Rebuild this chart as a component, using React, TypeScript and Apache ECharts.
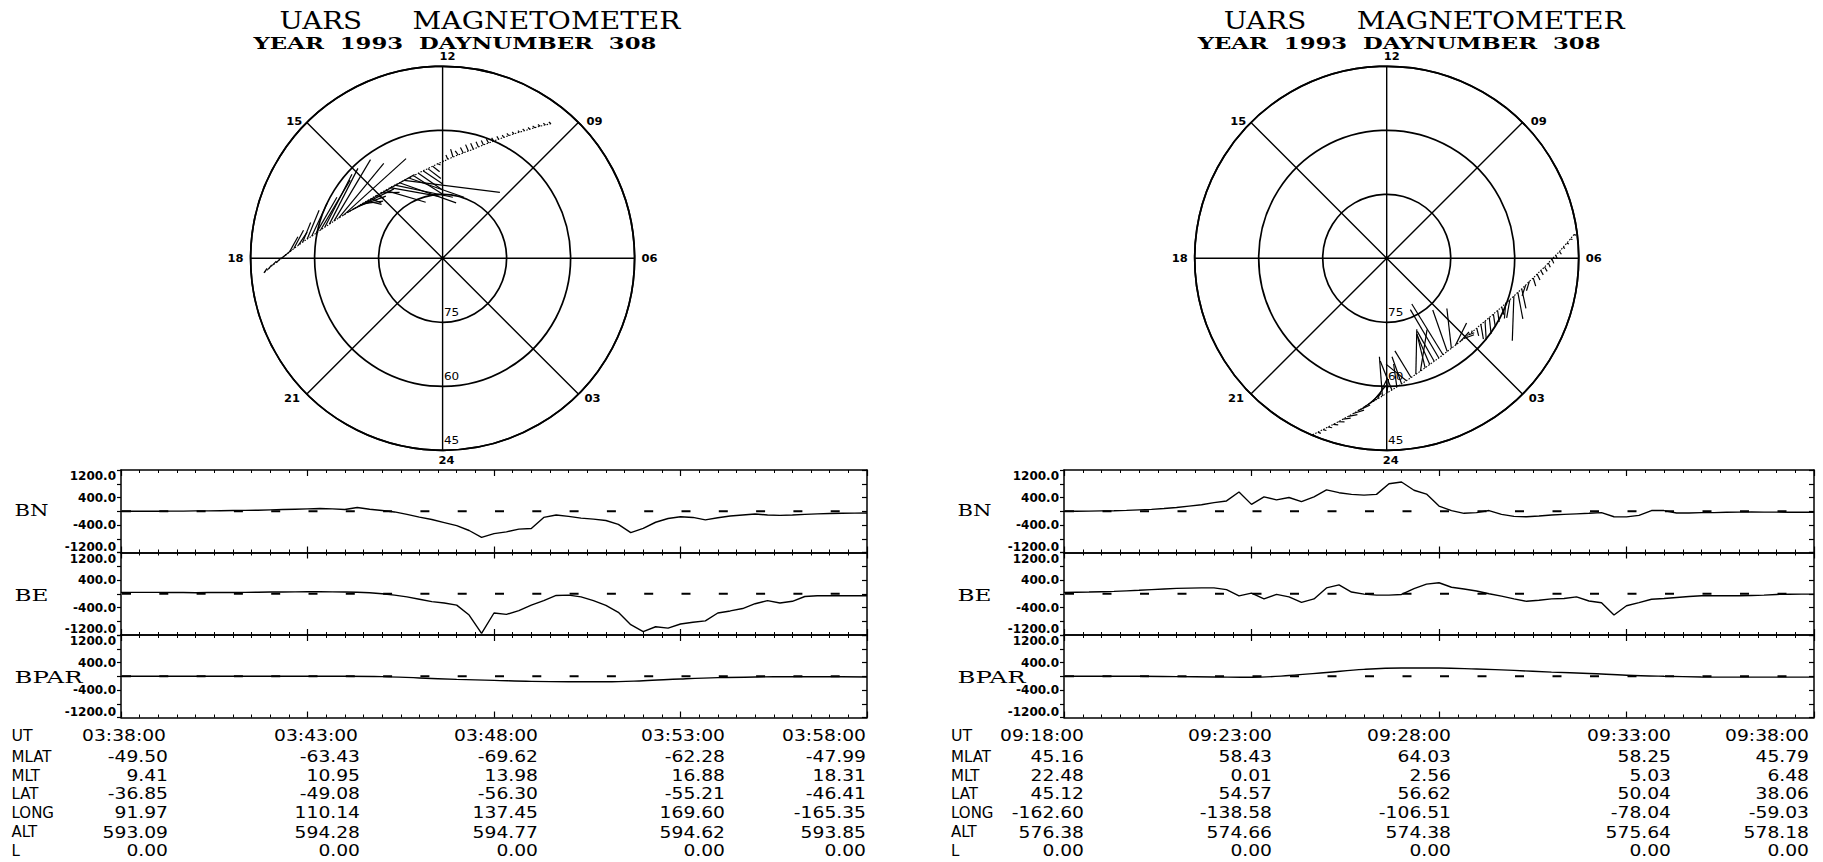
import { useEffect, useRef } from 'react';
import * as echarts from 'echarts';

// ---------- Data ----------
// Samples every 20 s over the 20-minute pass (61 samples); BPAR every minute (21 samples).

// Pass 1: 03:38:00 - 03:58:00 UT (southern hemisphere)
const P1_MLAT = [
  -49.5, -50.5, -51.5, -52.5, -53.48, -54.45, -55.4, -56.36, -57.31, -58.25, -59.15, -60.03,
  -60.9, -61.76, -62.6, -63.43, -64.15, -64.84, -65.5, -66.14, -66.76, -67.35, -67.82, -68.28,
  -68.7, -68.98, -69.26, -69.5, -69.58, -69.62, -69.62, -69.5, -69.36, -69.2, -68.88, -68.55,
  -68.2, -67.7, -67.18, -66.65, -66.0, -65.33, -64.65, -63.87, -63.08, -62.28, -61.46, -60.64,
  -59.8, -58.88, -57.95, -57.0, -56.04, -55.07, -54.1, -53.1, -52.1, -51.1, -50.06, -49.02, -47.99,
];
const P1_MLT = [
  9.41, 9.49, 9.57, 9.65, 9.73, 9.82, 9.91, 10.01, 10.11, 10.21, 10.32, 10.43,
  10.55, 10.68, 10.81, 10.95, 11.1, 11.26, 11.43, 11.61, 11.8, 11.99, 12.2, 12.41,
  12.62, 12.84, 13.06, 13.29, 13.52, 13.75, 13.98, 14.21, 14.44, 14.67, 14.89, 15.11,
  15.33, 15.53, 15.73, 15.92, 16.1, 16.27, 16.44, 16.59, 16.74, 16.88, 17.01, 17.13,
  17.25, 17.36, 17.46, 17.56, 17.66, 17.75, 17.84, 17.93, 18.01, 18.09, 18.16, 18.24, 18.31,
];
const P1_BN = [
  0, 0, 0, 0, 5, 5, 10, 10, 15, 20, 25, 30, 40, 50, 60, 70, 80, 70, 50, 110, 60,
  20, -20, -90, -170, -240, -330, -420, -560, -760, -650, -600, -520, -500, -180, -110,
  -150, -200, -230, -270, -380, -620, -500, -320, -210, -160, -180, -250, -190, -140,
  -110, -80, -110, -120, -110, -90, -75, -65, -60, -55, -50,
];
const P1_BE = [
  40, 40, 40, 40, 35, 35, 30, 35, 40, 35, 40, 45, 50, 50, 55, 60, 60, 55, 50, 45, 30,
  0, -40, -90, -160, -230, -270, -330, -620, -1150, -560, -600, -490, -330, -200, -50,
  -40, -90, -200, -340, -540, -900, -1100, -960, -1000, -880, -830, -790, -560, -500,
  -430, -290, -200, -270, -220, -80, -60, -60, -60, -60, -60,
];
const P1_BPAR = [0, 0, 0, 0, 0, 0, 0, -10, -50, -90, -120, -150, -160, -160, -130, -80, -40, -20, -15, -15, -20];

// Pass 2: 09:18:00 - 09:38:00 UT (northern hemisphere)
const P2_MLAT = [
  45.16, 46.17, 47.16, 48.13, 49.09, 50.04, 50.97, 51.89, 52.79, 53.67, 54.52, 55.36,
  56.17, 56.95, 57.7, 58.43, 59.11, 59.76, 60.38, 60.94, 61.47, 61.96, 62.4, 62.8,
  63.14, 63.41, 63.64, 63.83, 63.96, 64.02, 64.03, 63.97, 63.88, 63.76, 63.54, 63.3,
  63.03, 62.65, 62.24, 61.79, 61.27, 60.74, 60.19, 59.55, 58.91, 58.25, 57.55, 56.84,
  56.12, 55.34, 54.56, 53.77, 52.94, 52.1, 51.25, 50.36, 49.47, 48.57, 47.65, 46.72, 45.79,
];
const P2_MLT = [
  22.48, 22.56, 22.64, 22.72, 22.81, 22.9, 22.99, 23.09, 23.19, 23.29, 23.4, 23.51,
  23.62, 23.75, 23.88, 0.01, 0.15, 0.3, 0.45, 0.61, 0.77, 0.94, 1.11, 1.29,
  1.47, 1.65, 1.84, 2.02, 2.2, 2.38, 2.56, 2.75, 2.93, 3.12, 3.3, 3.48,
  3.66, 3.83, 4.0, 4.16, 4.32, 4.47, 4.62, 4.76, 4.9, 5.03, 5.15, 5.27,
  5.39, 5.49, 5.6, 5.7, 5.79, 5.89, 5.98, 6.07, 6.15, 6.24, 6.32, 6.4, 6.48,
];
const P2_BN = [
  0, 0, 5, 10, 15, 25, 40, 55, 80, 110, 150, 190, 250, 300, 560, 200, 420, 330, 400, 280, 420,
  620, 540, 490, 470, 490, 800, 850, 610, 500, 150, 20, -60, -40, 20, -90,
  -150, -160, -140, -110, -90, -75, -60, -40, -160, -165, -120, 20, 20, -50,
  -50, -40, -40, -30, -25, -20, -25, -25, -30, -30, -30,
];
const P2_BE = [
  40, 45, 50, 60, 70, 85, 100, 120, 140, 155, 165, 170, 170, 120, -60, 20, -150, -20, -90, -250, -150,
  170, 260, 50, -10, -40, -40, -20, 150, 280, 320, 190, 140, 80, 0, -70,
  -150, -220, -190, -150, -140, -90, -210, -260, -620, -350, -260, -160, -140, -110,
  -80, -60, -60, -60, -60, -50, -40, -20, -15, -10, -10,
];
const P2_BPAR = [0, 0, 0, -10, -20, -30, 20, 110, 200, 240, 240, 210, 170, 120, 80, 30, 0, -20, -25, -25, -25];

// Ephemeris table below each pass
const ROW_NAMES = ['MLAT', 'MLT', 'LAT', 'LONG', 'ALT', 'L'];
const P1_UT = ['03:38:00', '03:43:00', '03:48:00', '03:53:00', '03:58:00'];
const P1_TABLE = [
  [-49.5, -63.43, -69.62, -62.28, -47.99],
  [9.41, 10.95, 13.98, 16.88, 18.31],
  [-36.85, -49.08, -56.3, -55.21, -46.41],
  [91.97, 110.14, 137.45, 169.6, -165.35],
  [593.09, 594.28, 594.77, 594.62, 593.85],
  [0, 0, 0, 0, 0],
];
const P2_UT = ['09:18:00', '09:23:00', '09:28:00', '09:33:00', '09:38:00'];
const P2_TABLE = [
  [45.16, 58.43, 64.03, 58.25, 45.79],
  [22.48, 0.01, 2.56, 5.03, 6.48],
  [45.12, 54.57, 56.62, 50.04, 38.06],
  [-162.6, -138.58, -106.51, -78.04, -59.03],
  [576.38, 574.66, 574.38, 575.64, 578.18],
  [0, 0, 0, 0, 0],
];

const STRIP_NAMES = ['BN', 'BE', 'BPAR'];
const Y_LABELS = [1200, 400, -400, -1200];
const HOUR_LABELS = ['12', '24', '18', '06', '15', '09', '21', '03'];
const RING_LABELS = ['75', '60', '45'];

// ---------- Layout ----------
const W = 1823;
const H = 862;
const DIAL_CY = 258.3;
const DIAL_R = 192;
const STRIP_TOPS = [470, 552.5, 635];
const STRIP_H = 82.5;
const ROW_Y = [736, 757, 775.5, 794, 812.6, 832.4, 851];
const VEC_SCALE = 0.07; // px per nT

const SERIF = '"DejaVu Serif", serif';
const SANS = '"DejaVu Sans", sans-serif';

type Pass = {
  south: boolean;
  cx: number;
  stripX: number;
  stripW: number;
  mlat: number[];
  mlt: number[];
  bn: number[];
  be: number[];
  bpar: number[];
  ut: string[];
  table: number[][];
  utRight: number[];
  valRight: number[];
  rowLabelX: number;
};

const PASSES: Pass[] = [
  {
    south: true, cx: 442.6, stripX: 121, stripW: 746,
    mlat: P1_MLAT, mlt: P1_MLT, bn: P1_BN, be: P1_BE, bpar: P1_BPAR,
    ut: P1_UT, table: P1_TABLE,
    utRight: [166, 358, 538, 725, 866], valRight: [168, 360, 538, 725, 866], rowLabelX: 11.5,
  },
  {
    south: false, cx: 1386.7, stripX: 1064, stripW: 750,
    mlat: P2_MLAT, mlt: P2_MLT, bn: P2_BN, be: P2_BE, bpar: P2_BPAR,
    ut: P2_UT, table: P2_TABLE,
    utRight: [1084, 1272, 1451, 1671, 1809], valRight: [1084, 1272, 1451, 1671, 1809], rowLabelX: 951,
  },
];

// ---------- Text helpers ----------
let measureCtx: CanvasRenderingContext2D | null = null;
function measure(text: string, font: string): number {
  if (!measureCtx) measureCtx = document.createElement('canvas').getContext('2d');
  if (!measureCtx) return text.length * 8;
  measureCtx.font = font;
  return measureCtx.measureText(text).width || 1;
}

function textEl(
  text: string, x: number, y: number, font: string,
  align: 'left' | 'center' | 'right', scaleX = 1,
) {
  return {
    type: 'text', x, y, scaleX, silent: true, z: 20,
    style: {
      text, font, fill: '#000',
      align, textAlign: align, verticalAlign: 'middle', textVerticalAlign: 'middle',
    },
  };
}

function fitText(
  text: string, x: number, y: number, font: string,
  align: 'left' | 'center' | 'right', width: number,
) {
  return textEl(text, x, y, font, align, width / measure(text, font));
}

// ---------- Option ----------
function buildOption() {
  const polar: any[] = [];
  const radiusAxis: any[] = [];
  const angleAxis: any[] = [];
  const grid: any[] = [];
  const xAxis: any[] = [];
  const yAxis: any[] = [];
  const series: any[] = [];
  const graphic: any[] = [];

  const axisColor = '#000';

  PASSES.forEach((ps, pi) => {
    // Polar dial: colatitude rings at 75/60/45 and 3-hour MLT spokes, noon up, dawn right
    polar.push({ center: [ps.cx, DIAL_CY], radius: DIAL_R });
    radiusAxis.push({
      polarIndex: pi, type: 'value', min: 0, max: 45, interval: 15,
      axisLine: { show: false }, axisTick: { show: false }, axisLabel: { show: false },
      splitLine: { show: true, lineStyle: { color: axisColor, width: 1.7 } },
    });
    angleAxis.push({
      polarIndex: pi, type: 'value', min: 0, max: 24, interval: 3,
      startAngle: 270, clockwise: false,
      axisLine: { show: true, lineStyle: { color: axisColor, width: 1.7 } },
      axisTick: { show: false }, axisLabel: { show: false },
      splitLine: { show: true, lineStyle: { color: axisColor, width: 1.4 } },
    });

    const trackPts = ps.mlat.map((m, k) => [90 - Math.abs(m), ps.mlt[k]]);
    series.push({
      type: 'line', coordinateSystem: 'polar', polarIndex: pi,
      data: trackPts, showSymbol: false, silent: true,
      lineStyle: { color: '#000', width: 1.1, type: [1.5, 1.5] }, z: 3,
    });

    const south = ps.south;
    series.push({
      type: 'custom', coordinateSystem: 'polar', polarIndex: pi, silent: true,
      encode: { radius: 0, angle: 1 },
      data: ps.mlat.map((m, k) => [90 - Math.abs(m), ps.mlt[k], ps.bn[k], ps.be[k]]),
      renderItem: (_params: any, api: any) => {
        const r = api.value(0) as number;
        const m = api.value(1) as number;
        const bn = api.value(2) as number;
        const be = api.value(3) as number;
        const p = api.coord([r, m]);
        const phi = ((m - 6) * Math.PI) / 12;
        const ox = Math.cos(phi);
        const oy = -Math.sin(phi);
        const ex = -Math.sin(phi);
        const ey = -Math.cos(phi);
        // geomagnetic north points poleward in the north, away from the pole in the south
        const ns = south ? 1 : -1;
        const dx = VEC_SCALE * (bn * ns * ox + be * ex);
        const dy = VEC_SCALE * (bn * ns * oy + be * ey);
        return {
          type: 'line',
          shape: { x1: p[0], y1: p[1], x2: p[0] + dx, y2: p[1] + dy },
          style: { stroke: '#000', lineWidth: 1.2 },
        };
      },
      z: 4,
    });

    // Titles
    graphic.push(fitText('UARS', ps.cx - 163, 20, `normal 25px ${SERIF}`, 'left', 82.5));
    graphic.push(fitText('MAGNETOMETER', ps.cx - 30, 20, `normal 25px ${SERIF}`, 'left', 268));
    graphic.push(fitText('YEAR  1993  DAYNUMBER  308', ps.cx - 189, 43, `bold 17px ${SERIF}`, 'left', 403));

    // Dial hour labels
    const hourOffsets = [
      [5, -202], [4, 202.5], [-207, 0], [207, 0],
      [-148.4, -136.6], [152, -136.6], [-150.6, 140], [150, 140],
    ];
    HOUR_LABELS.forEach((t, k) => {
      graphic.push(textEl(t, ps.cx + hourOffsets[k][0], DIAL_CY + hourOffsets[k][1], `bold 10px ${SANS}`, 'center', 1.15));
    });
    RING_LABELS.forEach((t, k) => {
      graphic.push(textEl(t, ps.cx + 9, DIAL_CY + (k + 1) * 64 - 9, `normal 10px ${SANS}`, 'center', 1.2));
    });

    // Strip charts
    const stripData = [ps.bn, ps.be, ps.bpar];
    const labelWidths = [34, 34, 68];
    const labelY = [510, 595, 677];
    for (let s = 0; s < 3; s++) {
      const g = pi * 3 + s;
      grid.push({ left: ps.stripX, top: STRIP_TOPS[s], width: ps.stripW, height: STRIP_H, containLabel: false });
      const xBase = {
        gridIndex: g, type: 'value', min: 0, max: 20, interval: 5,
        axisLine: { show: true, onZero: false, lineStyle: { color: axisColor, width: 1.5 } },
        axisTick: { show: true, inside: true, length: 6, lineStyle: { color: axisColor, width: 1.2 } },
        minorTick: { show: true, splitNumber: 10, length: 3, lineStyle: { color: axisColor, width: 1 } },
        axisLabel: { show: false }, splitLine: { show: false }, minorSplitLine: { show: false },
      };
      xAxis.push({ ...xBase, position: 'bottom' });
      xAxis.push({ ...xBase, position: 'top' });
      const yBase = {
        gridIndex: g, type: 'value', min: -1200, max: 1200, interval: 400,
        axisLine: { show: true, onZero: false, lineStyle: { color: axisColor, width: 1.5 } },
        splitLine: { show: false },
      };
      yAxis.push({
        ...yBase, position: 'left',
        axisTick: { show: true, inside: false, length: 4, lineStyle: { color: axisColor, width: 1.2 } },
        axisLabel: {
          show: true, color: '#000', fontFamily: SANS, fontSize: 12, fontWeight: 'bold', margin: 5,
          verticalAlignMaxLabel: 'top', verticalAlignMinLabel: 'bottom',
          formatter: (v: number) => (Y_LABELS.includes(v) ? v.toFixed(1) : ''),
        },
      });
      yAxis.push({
        ...yBase, position: 'right',
        axisTick: { show: true, inside: true, length: 5, lineStyle: { color: axisColor, width: 1.2 } },
        axisLabel: { show: false },
      });

      const period = ps.stripW / 20;
      series.push({
        type: 'line', xAxisIndex: 2 * g, yAxisIndex: 2 * g, silent: true,
        data: [[0, 0], [20, 0]], showSymbol: false,
        lineStyle: { color: '#000', width: 1.8, type: [9, period - 9], dashOffset: -1.5 }, z: 2,
      });

      const vals = stripData[s];
      const stepMin = s === 2 ? 1 : 1 / 3;
      series.push({
        type: 'line', xAxisIndex: 2 * g, yAxisIndex: 2 * g, silent: true,
        data: vals.map((v, k) => [k * stepMin, v]), showSymbol: false, smooth: s === 2 ? 0.4 : false,
        lineStyle: { color: '#000', width: 1.4 }, z: 3,
      });

      graphic.push(fitText(STRIP_NAMES[s], ps.stripX - 106.5, labelY[s], `normal 17px ${SERIF}`, 'left', labelWidths[s]));
    }

    // Ephemeris table
    const tFont = `normal 15px ${SANS}`;
    const numScale = 84 / measure('00:00:00', tFont);
    graphic.push(textEl('UT', ps.rowLabelX, ROW_Y[0], tFont, 'left', 1.05));
    ps.ut.forEach((u, c) => graphic.push(textEl(u, ps.utRight[c], ROW_Y[0], tFont, 'right', numScale)));
    ROW_NAMES.forEach((name, r) => {
      graphic.push(textEl(name, ps.rowLabelX, ROW_Y[r + 1], tFont, 'left', 1.0));
      ps.table[r].forEach((v, c) => {
        graphic.push(textEl(v.toFixed(2), ps.valRight[c], ROW_Y[r + 1], tFont, 'right', numScale));
      });
    });
  });

  return {
    animation: false,
    backgroundColor: '#fff',
    polar, radiusAxis, angleAxis, grid, xAxis, yAxis, series, graphic,
  };
}

export default function App() {
  const ref = useRef<HTMLDivElement | null>(null);
  useEffect(() => {
    if (!ref.current) return;
    const chart = echarts.init(ref.current, null, { renderer: 'svg' });
    chart.setOption(buildOption() as any);
    return () => chart.dispose();
  }, []);
  return (
    <div
      ref={ref}
      style={{ position: 'absolute', left: 0, top: 0, width: W, height: H, background: '#fff' }}
    />
  );
}
